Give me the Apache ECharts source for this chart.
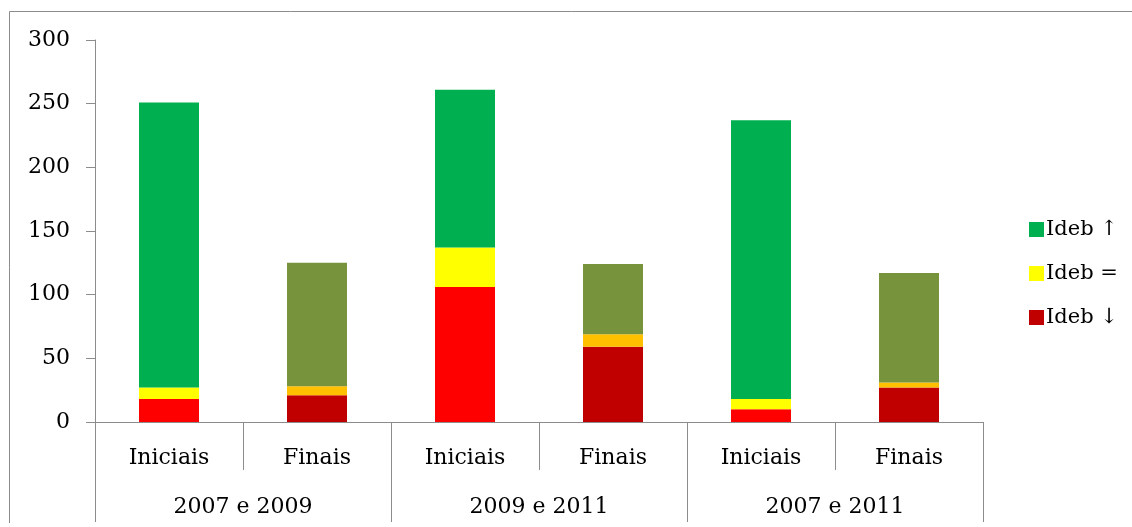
<!DOCTYPE html>
<html>
<head>
<meta charset="utf-8">
<script src="https://cdn.jsdelivr.net/npm/echarts@6/dist/echarts.min.js"></script>
<style>
  html, body { margin: 0; padding: 0; background: #fff; }
  #chart { width: 1132px; height: 527px; }
</style>
</head>
<body>
<div id="chart"></div>
<script>
// categorias e grupos do eixo x
const levels = ["Iniciais", "Finais", "Iniciais", "Finais", "Iniciais", "Finais"];
const periods = ["2007 e 2009", "2009 e 2011", "2007 e 2011"];

// valores por série (empilhados de baixo para cima)
const idebDown = [18, 21, 106, 59, 10, 27];
const idebEqual = [9, 7, 31, 10, 8, 4];
const idebUp = [224, 97, 124, 55, 219, 86];

const yTicks = [0, 50, 100, 150, 200, 250, 300];

// cores: Iniciais / Finais
const colorsUp = ["#00B050", "#77933C"];
const colorsEqual = ["#FFFF00", "#FFC000"];
const colorsDown = ["#FF0000", "#C00000"];

const font = "DejaVu Serif";
const axisGray = "#8c8c8c";

const paint = (values, pair) =>
  values.map((v, i) => ({ value: v, itemStyle: { color: pair[i % 2] } }));

const chart = echarts.init(document.getElementById("chart"));

chart.setOption({
  animation: false,
  graphic: [
    {
      type: "polyline",
      shape: { points: [[9.5, 523], [9.5, 11.5], [1140, 11.5]] },
      style: { stroke: axisGray, lineWidth: 1, fill: null },
    },
  ],
  grid: { left: 95, right: 149, top: 40, bottom: 105 },
  legend: {
    orient: "vertical",
    left: 1024,
    top: 214,
    itemWidth: 15,
    itemHeight: 15,
    itemGap: 23,
    icon: "rect",
    data: ["Ideb ↑", "Ideb =", "Ideb ↓"],
    textStyle: { fontFamily: font, fontSize: 21, color: "#000", padding: [0, 0, 0, -3] },
  },
  xAxis: [
    {
      type: "category",
      data: levels,
      position: "bottom",
      axisLine: { lineStyle: { color: axisGray, width: 1 } },
      axisTick: { show: true, length: 48, lineStyle: { color: axisGray } },
      axisLabel: { fontFamily: font, fontSize: 22, color: "#000", margin: 25 },
    },
    {
      type: "category",
      data: periods,
      position: "bottom",
      axisLine: { show: false },
      axisTick: { show: true, length: 100, lineStyle: { color: axisGray } },
      axisLabel: { fontFamily: font, fontSize: 22, color: "#000", margin: 74 },
    },
  ],
  yAxis: {
    type: "value",
    min: yTicks[0],
    max: yTicks[yTicks.length - 1],
    interval: 50,
    axisLine: { show: true, lineStyle: { color: axisGray } },
    axisTick: { show: true, length: 9, lineStyle: { color: axisGray } },
    splitLine: { show: false },
    axisLabel: { fontFamily: font, fontSize: 22, color: "#000", margin: 25 },
  },
  series: [
    {
      name: "Ideb ↓",
      type: "bar",
      stack: "ideb",
      barWidth: 60,
      itemStyle: { color: "#C00000" },
      data: paint(idebDown, colorsDown),
    },
    {
      name: "Ideb =",
      type: "bar",
      stack: "ideb",
      barWidth: 60,
      itemStyle: { color: "#FFFF00" },
      data: paint(idebEqual, colorsEqual),
    },
    {
      name: "Ideb ↑",
      type: "bar",
      stack: "ideb",
      barWidth: 60,
      itemStyle: { color: "#00B050" },
      data: paint(idebUp, colorsUp),
    },
  ],
});
</script>
</body>
</html>
